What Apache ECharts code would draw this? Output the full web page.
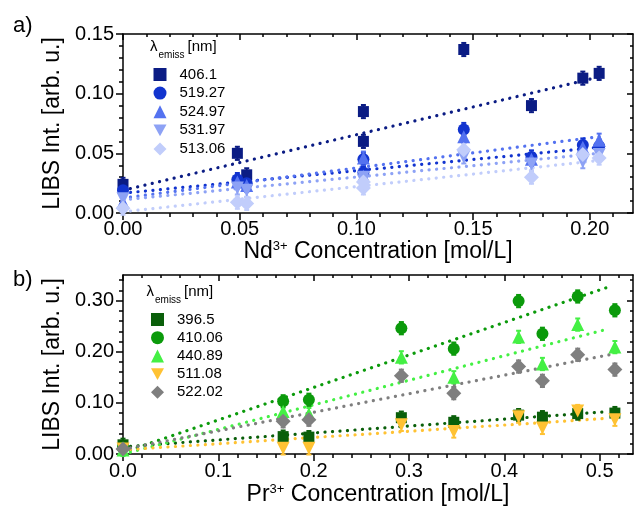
<!DOCTYPE html>
<html><head><meta charset="utf-8">
<script src="https://cdn.jsdelivr.net/npm/echarts@6/dist/echarts.min.js"></script>
<style>html,body{margin:0;padding:0;background:#fff}#c{width:634px;height:508px}</style>
</head><body><div id="c"></div>
<script>
// ---------- Panel a) Nd3+ ----------
const concA = [0, 0.049, 0.053, 0.103, 0.103, 0.146, 0.175, 0.197, 0.204];
const namesA = ['406.1', '519.27', '524.97', '531.97', '513.06'];
const val406 = [0.024, 0.050, 0.032, 0.085, 0.060, 0.137, 0.090, 0.113, 0.117];
const val519 = [0.019, 0.028, 0.025, 0.045, 0.034, 0.070, 0.047, 0.057, 0.056];
const val524 = [0.009, 0.026, 0.023, 0.046, 0.031, 0.064, 0.045, 0.055, 0.061];
const val531 = [0.012, 0.021, 0.019, 0.030, 0.027, 0.047, 0.041, 0.043, 0.049];
const val513 = [0.004, 0.009, 0.008, 0.021, 0.026, 0.053, 0.030, 0.049, 0.046];
const fitXA = [0, 0.204];
const fitStartA = [0.019, 0.0166, 0.0125, 0.011, 0.001];
const fitEndA = [0.114, 0.055, 0.064, 0.050, 0.044];
const errA = 0.0055;
const xTicksA = [0, 0.05, 0.10, 0.15, 0.20];
const yTicksA = [0, 0.05, 0.10, 0.15];

// ---------- Panel b) Pr3+ ----------
const concB = [0, 0.168, 0.195, 0.292, 0.347, 0.415, 0.440, 0.477, 0.516];
const namesB = ['396.5', '410.06', '440.89', '511.08', '522.02'];
const val396 = [0.018, 0.034, 0.033, 0.071, 0.062, 0.076, 0.072, 0.079, 0.080];
const val410 = [0.012, 0.103, 0.106, 0.246, 0.206, 0.299, 0.235, 0.308, 0.281];
const val440 = [0.008, 0.083, 0.078, 0.189, 0.150, 0.229, 0.176, 0.253, 0.209];
const val511 = [0.010, 0.011, 0.011, 0.057, 0.044, 0.073, 0.051, 0.084, 0.067];
const val522 = [0.010, 0.064, 0.067, 0.153, 0.119, 0.171, 0.143, 0.194, 0.165];
const fitXB = [0, 0.51];
const fitStartB = [0.014, 0.003, 0.0, 0.008, 0.009];
const fitEndB = [0.083, 0.327, 0.245, 0.070, 0.194];
const errB = 0.012;
const xTicksB = [0, 0.1, 0.2, 0.3, 0.4, 0.5];
const yTicksB = [0, 0.10, 0.20, 0.30];

// ---------- styling ----------
const FONT = "'Liberation Sans', Arial, sans-serif";
const colorsA = ['#0b1c84', '#1234cf', '#5472f0', '#8da2f5', '#c1cdfb'];
const colorsB = ['#0a5f0a', '#0b9a0b', '#44f044', '#ffc233', '#7f7f7f'];
const DOWN = 'path://M0,0L10,0L5,9Z';
const symbols = ['rect', 'circle', 'triangle', DOWN, 'diamond'];
const sizes = [11, 12, 13, 13, 15];

function steps(step, maxV) {
  const out = [];
  for (let i = 0; i * step <= maxV + 1e-9; i++) out.push(Math.round(i * step * 1e6) / 1e6);
  return out;
}
const LS = {color: '#000', width: 1.5};

function makeAxes(dim, grid, min, max, majors, minors, fmt, margin, name, nameGap, nameRich) {
  const base = {gridIndex: grid, type: 'value', min: min, max: max, splitLine: {show: false}};
  const p1 = dim === 'x' ? 'bottom' : 'left';
  const p2 = dim === 'x' ? 'top' : 'right';
  return [
    Object.assign({}, base, {
      position: p1,
      axisLine: {show: true, onZero: false, lineStyle: LS},
      axisTick: {show: true, inside: false, length: 7, lineStyle: LS, customValues: majors},
      axisLabel: {show: true, customValues: majors, formatter: fmt, margin: margin,
                  fontSize: 20, color: '#000', fontFamily: FONT},
      name: name, nameLocation: 'middle', nameGap: nameGap,
      nameTextStyle: {fontSize: 23, color: '#000', fontFamily: FONT, rich: nameRich}
    }),
    Object.assign({}, base, {
      position: p1,
      axisLine: {show: false, onZero: false},
      axisTick: {show: true, inside: false, length: 4, lineStyle: LS, customValues: minors},
      axisLabel: {show: false}
    }),
    Object.assign({}, base, {
      position: p2,
      axisLine: {show: true, onZero: false, lineStyle: LS},
      axisTick: {show: true, inside: true, length: 6, lineStyle: LS, customValues: majors},
      axisLabel: {show: false}
    }),
    Object.assign({}, base, {
      position: p2,
      axisLine: {show: false, onZero: false},
      axisTick: {show: true, inside: true, length: 3, lineStyle: LS, customValues: minors},
      axisLabel: {show: false}
    })
  ];
}

const supRich = {
  n: {fontSize: 23, lineHeight: 26, verticalAlign: 'top', fontFamily: FONT, color: '#000'},
  s: {fontSize: 13, lineHeight: 13, verticalAlign: 'top', fontFamily: FONT, color: '#000'}
};
const yRich = {n: {fontSize: 23, fontFamily: FONT, color: '#000'}};

const f2 = v => v.toFixed(2);
const f1 = v => v.toFixed(1);

const xAxes = [].concat(
  makeAxes('x', 0, 0, 0.2185, xTicksA, steps(0.01, 0.215), f2, 6,
           '{n|Nd}{s|3+}{n| Concentration [mol/L]}', 25, supRich),
  makeAxes('x', 1, 0, 0.535, xTicksB, steps(0.02, 0.53), f1, 7,
           '{n|Pr}{s|3+}{n| Concentration [mol/L]}', 29, supRich)
);
const yAxes = [].concat(
  makeAxes('y', 0, 0, 0.15, yTicksA, steps(0.01, 0.15), f2, 9, 'LIBS Int. [arb. u.]', 52, yRich),
  makeAxes('y', 1, 0, 0.35, yTicksB, steps(0.02, 0.35), f2, 9, 'LIBS Int. [arb. u.]', 52, yRich)
);

function errRender(color) {
  return function (params, api) {
    const x = api.value(0), y = api.value(1), e = api.value(2);
    const lo = api.coord([x, y - e]), hi = api.coord([x, y + e]);
    const st = {stroke: color, lineWidth: 2};
    return {type: 'group', children: [
      {type: 'line', shape: {x1: lo[0], y1: lo[1], x2: hi[0], y2: hi[1]}, style: st},
      {type: 'line', shape: {x1: lo[0] - 2.5, y1: lo[1], x2: lo[0] + 2.5, y2: lo[1]}, style: st},
      {type: 'line', shape: {x1: hi[0] - 2.5, y1: hi[1], x2: hi[0] + 2.5, y2: hi[1]}, style: st}
    ]};
  };
}

const series = [];
function addPanel(axisIdx, conc, names, vals, colors, fitX, fitS, fitE, err) {
  names.forEach((nm, i) => {
    series.push({
      type: 'line', xAxisIndex: axisIdx, yAxisIndex: axisIdx, silent: true,
      data: [[fitX[0], fitS[i]], [fitX[1], fitE[i]]], showSymbol: false, symbol: 'none',
      lineStyle: {color: colors[i], width: 3.2, type: [0.1, 7.4], cap: 'round'}, z: 1
    });
  });
  names.forEach((nm, i) => {
    series.push({
      type: 'custom', xAxisIndex: axisIdx, yAxisIndex: axisIdx, silent: true,
      data: conc.map((c, j) => [c, vals[i][j], err]),
      encode: {x: 0, y: 1}, renderItem: errRender(colors[i]), z: 2
    });
  });
  names.forEach((nm, i) => {
    series.push({
      name: nm, type: 'scatter', xAxisIndex: axisIdx, yAxisIndex: axisIdx,
      data: conc.map((c, j) => [c, vals[i][j]]),
      symbol: symbols[i], symbolSize: sizes[i],
      itemStyle: {color: colors[i], opacity: 1}, z: 3
    });
  });
}
addPanel(0, concA, namesA, [val406, val519, val524, val531, val513], colorsA, fitXA, fitStartA, fitEndA, errA);
addPanel(4, concB, namesB, [val396, val410, val440, val511, val522], colorsB, fitXB, fitStartB, fitEndB, errB);

const legendBase = {
  orient: 'vertical', itemWidth: 13, itemHeight: 13, selectedMode: false,
  textStyle: {fontSize: 15, color: '#000', fontFamily: FONT, padding: [0, 0, 0, 8]}
};

function header(x, y) {
  return {
    type: 'text', x: x, y: y, silent: true,
    style: {
      text: '{l|λ}{s|emiss}{u|[nm]}', verticalAlign: 'top', fill: '#000',
      rich: {
        l: {fontSize: 15, lineHeight: 16, verticalAlign: 'top', fontFamily: FONT, fill: '#000'},
        s: {fontSize: 10, lineHeight: 10, verticalAlign: 'top', padding: [11, 0, 0, 1], fontFamily: FONT, fill: '#000'},
        u: {fontSize: 15, lineHeight: 16, verticalAlign: 'top', padding: [0, 0, 0, 3], fontFamily: FONT, fill: '#000'}
      }
    }
  };
}

const chart = echarts.init(document.getElementById('c'), null, {renderer: 'canvas'});
chart.setOption({
  animation: false,
  backgroundColor: '#fff',
  grid: [
    {left: 123, top: 34, width: 510, height: 179, containLabel: false, outerBoundsMode: 'none'},
    {left: 123, top: 275, width: 510, height: 179, containLabel: false, outerBoundsMode: 'none'}
  ],
  xAxis: xAxes,
  yAxis: yAxes,
  legend: [
    Object.assign({}, legendBase, {data: namesA, left: 148.5, top: 62, itemGap: 3.6}),
    Object.assign({}, legendBase, {data: namesB, left: 146, top: 307, itemGap: 3.2})
  ],
  graphic: [
    {type: 'text', x: 13, y: 26, silent: true,
     style: {text: 'a)', fontSize: 22, fontFamily: FONT, fill: '#000', verticalAlign: 'middle'}},
    {type: 'text', x: 13, y: 280, silent: true,
     style: {text: 'b)', fontSize: 22, fontFamily: FONT, fill: '#000', verticalAlign: 'middle'}},
    header(150, 39.5),
    header(146.5, 284)
  ],
  series: series
});
</script></body></html>
